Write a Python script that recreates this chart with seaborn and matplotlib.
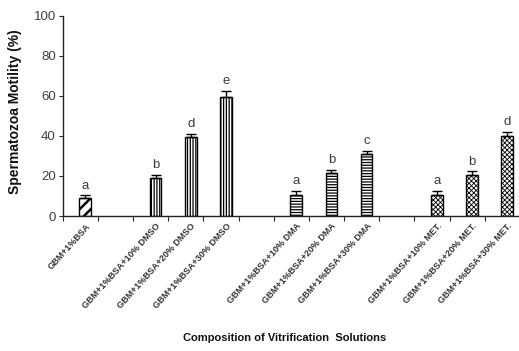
import numpy as np
import pandas as pd
import matplotlib
matplotlib.use("Agg")
import matplotlib.pyplot as plt
import seaborn as sns

# ---- data ----
order = ["GBM+1%BSA", " ",
         "GBM+1%BSA+10% DMSO", "GBM+1%BSA+20% DMSO", "GBM+1%BSA+30% DMSO", "  ",
         "GBM+1%BSA+10% DMA", "GBM+1%BSA+20% DMA", "GBM+1%BSA+30% DMA", "   ",
         "GBM+1%BSA+10% MET.", "GBM+1%BSA+20% MET.", "GBM+1%BSA+30% MET."]
labels = ["GBM+1%BSA",
          "GBM+1%BSA+10% DMSO", "GBM+1%BSA+20% DMSO", "GBM+1%BSA+30% DMSO",
          "GBM+1%BSA+10% DMA", "GBM+1%BSA+20% DMA", "GBM+1%BSA+30% DMA",
          "GBM+1%BSA+10% MET.", "GBM+1%BSA+20% MET.", "GBM+1%BSA+30% MET."]
groups = ["BSA", "DMSO", "DMSO", "DMSO", "DMA", "DMA", "DMA", "MET", "MET", "MET"]
motility = [8.8, 19.2, 39.6, 59.5, 10.5, 21.3, 30.8, 10.5, 20.5, 40.0]
errors = [1.6, 1.3, 1.5, 3.0, 2.0, 1.8, 1.8, 2.0, 1.8, 2.0]
letters = ["a", "b", "d", "e", "a", "b", "c", "a", "b", "d"]
hatches = {"BSA": "///", "DMSO": "||||||", "DMA": "------", "MET": "xxxxxxx"}

df = pd.DataFrame({"label": labels, "group": groups, "value": motility,
                   "err": errors, "letter": letters})

sns.set_style("ticks")
plt.rcParams["font.family"] = ["Liberation Sans", "DejaVu Sans"]
plt.rcParams["hatch.linewidth"] = 0.9
plt.rcParams["hatch.color"] = "black"

fig = plt.figure(figsize=(5.19, 3.51), dpi=100)
ax = fig.add_axes([0.1208, 0.3846, 0.881, 0.5707])

sns.barplot(data=df, x="label", y="value", order=order, color="white",
            edgecolor="black", linewidth=1.0, width=0.33, ax=ax, errorbar=None)

for p in ax.patches:
    cx = p.get_x() + p.get_width() / 2
    name = order[int(round(cx))]
    if name in labels:
        g = groups[labels.index(name)]
        p.set_hatch(hatches[g])
        p.set_facecolor("white")
        if g == "BSA":
            try:
                p.set_hatch_linewidth(1.8)
            except AttributeError:
                pass
        elif g == "MET":
            try:
                p.set_hatch_linewidth(0.6)
            except AttributeError:
                pass

xpos = [order.index(l) for l in labels]
ax.errorbar(xpos, motility, yerr=[np.zeros(len(errors)), errors], fmt="none",
            ecolor="black", elinewidth=1.0, capsize=3.5, capthick=1.0)
for x, v, e, t in zip(xpos, motility, errors, letters):
    ax.text(x, v + e + 1.8, t, ha="center", va="bottom", fontsize=9.5,
            color="#3a3a3a")

ax.set_xlim(-0.64, 12.36)
ax.set_ylim(0, 100)
ax.set_yticks([0, 20, 40, 60, 80, 100])
ax.tick_params(axis="y", labelsize=9.5, labelcolor="#404040", length=3,
               width=0.8, pad=2, direction="out")

ax.set_xticks(range(len(order)))
ax.set_xticklabels([l.strip() for l in order], rotation=48, ha="right",
                   va="top", rotation_mode="anchor", fontsize=6.5,
                   fontweight="bold", color="#333333")
ax.tick_params(axis="x", which="major", length=0, pad=4)
ax.set_xticks(np.arange(len(order) + 1) - 0.64, minor=True)
ax.tick_params(axis="x", which="minor", length=3.5, width=0.8,
               direction="out")

for s in ["top", "right"]:
    ax.spines[s].set_visible(False)
for s in ["left", "bottom"]:
    ax.spines[s].set_color("#222222")
    ax.spines[s].set_linewidth(1.0)

ax.set_ylabel("Spermatozoa Motility (%)", fontsize=10, fontweight="bold",
              color="#111111")
ax.yaxis.set_label_coords(-0.089, 0.52)
ax.set_xlabel("Composition of Vitrification  Solutions", fontsize=8,
              fontweight="bold", color="#111111")
ax.xaxis.set_label_coords(0.486, -0.585)

fig.savefig("out.png", dpi=100)
